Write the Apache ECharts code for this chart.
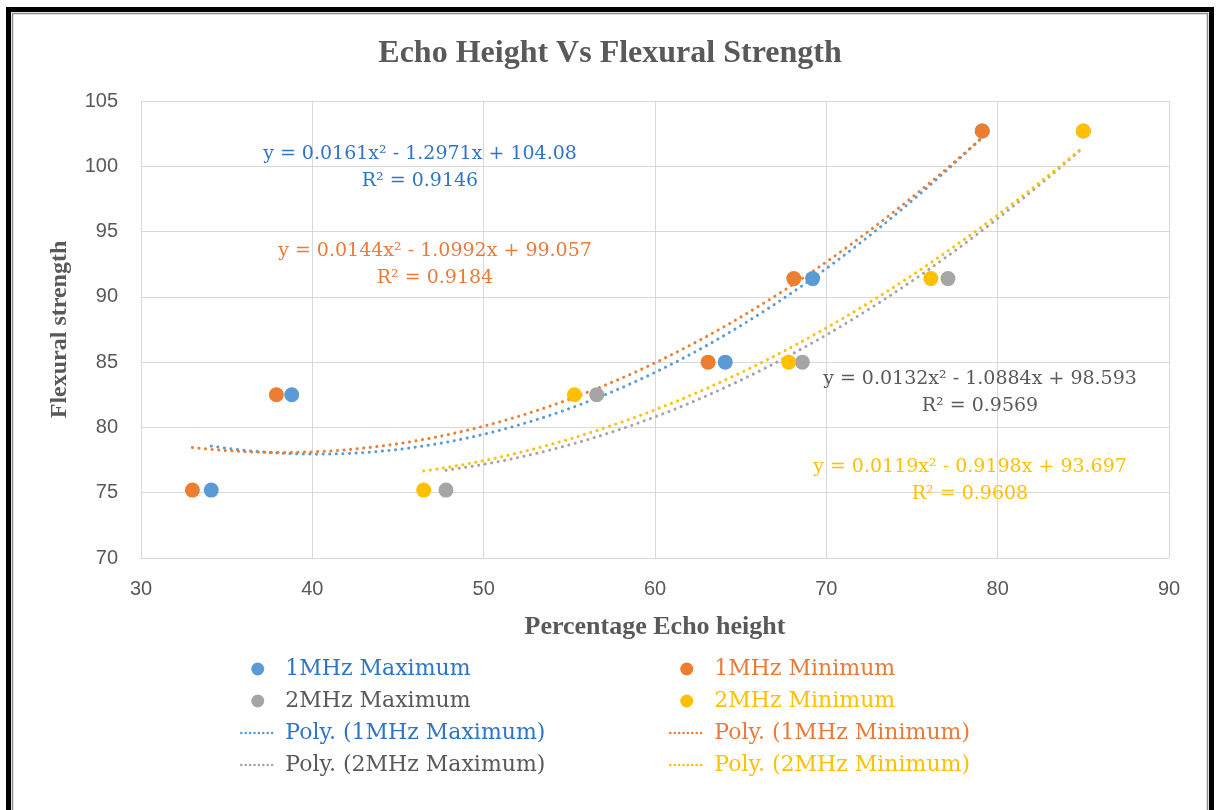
<!DOCTYPE html>
<html>
<head>
<meta charset="utf-8">
<script src="https://cdn.jsdelivr.net/npm/echarts@6/dist/echarts.min.js"></script>
<style>
  html, body { margin: 0; padding: 0; background: #ffffff; }
  #chart { width: 1220px; height: 810px; }
</style>
</head>
<body>
<div id="chart"></div>
<script>
// Flexural strength values shared by every probe setting
const strength = [75.2, 82.5, 85.0, 91.4, 102.7];

// Percentage echo height per probe setting
const echo1MHzMax = [34.1, 38.8, 64.1, 69.2, 79.1];
const echo1MHzMin = [33.0, 37.9, 63.1, 68.1, 79.1];
const echo2MHzMax = [47.8, 56.6, 68.6, 77.1, 85.0];
const echo2MHzMin = [46.5, 55.3, 67.8, 76.1, 85.0];

// Second-order trendline coefficients [a, b, c] and R² values
const fit1MHzMax = [0.0161, -1.2971, 104.08];
const fit1MHzMin = [0.0144, -1.0992, 99.057];
const fit2MHzMax = [0.0132, -1.0884, 98.593];
const fit2MHzMin = [0.0119, -0.9198, 93.697];
const r2Values = ['0.9146', '0.9184', '0.9569', '0.9608'];

const xTicks = [30, 40, 50, 60, 70, 80, 90];
const yTicks = [70, 75, 80, 85, 90, 95, 100, 105];

const serif = '"Liberation Serif", "Times New Roman", serif';
const wideSerif = '"DejaVu Serif", "Liberation Serif", serif';
const sans = '"Liberation Sans", Arial, sans-serif';

const COLORS = {
  blue: '#5B9BD5', orange: '#ED7D31', gray: '#A5A5A5', yellow: '#FFC000'
};
const TEXT = {
  blue: '#2E75C8', orange: '#E97B3A', gray: '#595959', yellow: '#FFC000'
};

function pairs(xs, ys) { return xs.map((x, i) => [x, ys[i]]); }

// Sample the fitted quadratic across the span of its own data
function trend(xs, coef) {
  const lo = Math.min(...xs), hi = Math.max(...xs);
  const n = 80, out = [];
  for (let i = 0; i <= n; i++) {
    const x = lo + (hi - lo) * i / n;
    out.push([x, coef[0] * x * x + coef[1] * x + coef[2]]);
  }
  return out;
}

function eqText(coef) {
  return 'y = ' + coef[0] + 'x² - ' + Math.abs(coef[1]) + 'x + ' + coef[2];
}

const groups = [
  { name: '1MHz Maximum', xs: echo1MHzMax, fit: fit1MHzMax, c: 'blue' },
  { name: '1MHz Minimum', xs: echo1MHzMin, fit: fit1MHzMin, c: 'orange' },
  { name: '2MHz Maximum', xs: echo2MHzMax, fit: fit2MHzMax, c: 'gray' },
  { name: '2MHz Minimum', xs: echo2MHzMin, fit: fit2MHzMin, c: 'yellow' }
];

const series = [];
groups.forEach((g) => {
  series.push({
    name: 'Poly. (' + g.name + ')',
    type: 'line',
    data: trend(g.xs, g.fit),
    showSymbol: false,
    symbol: 'none',
    z: 2,
    lineStyle: { color: COLORS[g.c], width: 3, type: [0.1, 6.5], cap: 'round' },
    itemStyle: { color: COLORS[g.c] }
  });
});
// Markers: Maximum series first so the Minimum points sit on top
[0, 2, 1, 3].forEach((k) => {
  const g = groups[k];
  series.push({
    name: g.name,
    type: 'scatter',
    data: pairs(g.xs, strength),
    symbol: 'circle',
    symbolSize: 15,
    z: 3,
    itemStyle: { color: COLORS[g.c], opacity: 1 }
  });
});

// Equation / R² annotations
const eqPos = [
  { x: 420, y: 168 }, { x: 435, y: 265 }, { x: 980, y: 393 }, { x: 970, y: 481 }
];
const annotations = groups.map((g, i) => ({
  type: 'text',
  x: eqPos[i].x, y: eqPos[i].y,
  style: {
    text: eqText(g.fit) + '\nR² = ' + r2Values[i],
    fill: TEXT[g.c], font: '19px ' + wideSerif,
    align: 'center', verticalAlign: 'middle', lineHeight: 27
  },
  z: 10
}));

function markerItem(name, c) {
  return { name: name, textStyle: { color: TEXT[c] } };
}
function trendItem(name, c) {
  return {
    name: name,
    textStyle: { color: TEXT[c] },
    itemStyle: { color: 'rgba(0,0,0,0)', borderWidth: 0, opacity: 0 },
    lineStyle: { color: COLORS[c], width: 2.5, type: [0.1, 4.3], cap: 'round' }
  };
}

const legendCommon = {
  orient: 'vertical',
  top: 653,
  itemWidth: 33,
  itemHeight: 13,
  itemGap: 10,
  textStyle: { fontFamily: wideSerif, fontSize: 22, lineHeight: 21, padding: [0, 0, 0, 6] },
  selectedMode: false
};

const option = {
  backgroundColor: '#ffffff',
  animation: false,
  title: {
    text: 'Echo Height Vs Flexural Strength',
    left: 'center', top: 33,
    textStyle: { fontFamily: serif, fontSize: 32, fontWeight: 'bold', color: '#595959' }
  },
  grid: { left: 141, top: 101, width: 1028, height: 457, containLabel: false },
  xAxis: {
    type: 'value', min: xTicks[0], max: xTicks[xTicks.length - 1], interval: 10,
    name: 'Percentage Echo height', nameLocation: 'middle', nameGap: 56,
    nameTextStyle: { fontFamily: serif, fontSize: 26, fontWeight: 'bold', color: '#595959' },
    axisLine: { show: true, lineStyle: { color: '#D9D9D9', width: 1 } },
    axisTick: { show: false },
    axisLabel: { fontFamily: sans, fontSize: 20, color: '#595959', margin: 21 },
    splitLine: { show: true, lineStyle: { color: '#D9D9D9', width: 1 } }
  },
  yAxis: {
    type: 'value', min: yTicks[0], max: yTicks[yTicks.length - 1], interval: 5,
    name: 'Flexural strength', nameLocation: 'middle', nameGap: 69,
    nameTextStyle: { fontFamily: serif, fontSize: 24, fontWeight: 'bold', color: '#595959' },
    axisLine: { show: true, lineStyle: { color: '#D9D9D9', width: 1 } },
    axisTick: { show: false },
    axisLabel: { fontFamily: sans, fontSize: 20, color: '#595959', margin: 23 },
    splitLine: { show: true, lineStyle: { color: '#D9D9D9', width: 1 } }
  },
  legend: [
    Object.assign({}, legendCommon, {
      left: 235,
      data: [markerItem('1MHz Maximum', 'blue'), markerItem('2MHz Maximum', 'gray'),
             trendItem('Poly. (1MHz Maximum)', 'blue'), trendItem('Poly. (2MHz Maximum)', 'gray')]
    }),
    Object.assign({}, legendCommon, {
      left: 664,
      data: [markerItem('1MHz Minimum', 'orange'), markerItem('2MHz Minimum', 'yellow'),
             trendItem('Poly. (1MHz Minimum)', 'orange'), trendItem('Poly. (2MHz Minimum)', 'yellow')]
    })
  ],
  graphic: [
    // outer frame
    { type: 'rect', shape: { x: 8.5, y: 9.5, width: 1203, height: 803 },
      style: { fill: null, stroke: '#000000', lineWidth: 5 }, silent: true, z: 20 },
    { type: 'rect', shape: { x: 12.5, y: 13.5, width: 1195, height: 800 },
      style: { fill: null, stroke: '#8C8C8C', lineWidth: 1.5 }, silent: true, z: 20 }
  ].concat(annotations),
  series: series
};

const chart = echarts.init(document.getElementById('chart'), null, { renderer: 'canvas' });
chart.setOption(option);
</script>
</body>
</html>
